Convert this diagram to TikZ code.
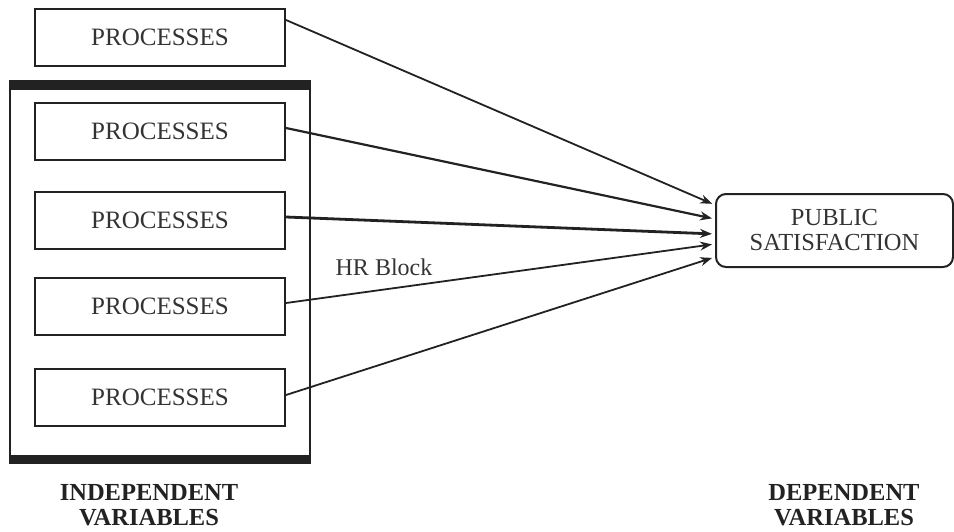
\documentclass[tikz,border=0pt]{standalone}
\usepackage{fontspec}
\setmainfont{Liberation Serif}
\usetikzlibrary{arrows.meta,calc}
\definecolor{ink}{HTML}{222222}
\definecolor{txt}{HTML}{333333}
\tikzset{
  procbox/.style={draw=ink, line width=2pt, minimum width=250pt, minimum height=57pt,
    inner sep=0pt, text=txt, font=\fontsize{25}{25}\selectfont},
  outbox/.style={draw=ink, line width=2pt, rounded corners=10pt, minimum width=237pt,
    minimum height=73pt, inner sep=0pt, align=center, text=txt,
    font=\fontsize{24.5}{25}\selectfont},
  varlabel/.style={align=center, text=ink, font=\bfseries\fontsize{24.5}{25}\selectfont},
  link/.style={draw=ink, line width=1.8pt, shorten >=3pt,
    -{Stealth[length=12pt,width=9pt]}},
}
\begin{document}
\begin{tikzpicture}[x=1pt,y=-1pt]
\useasboundingbox (0,0) rectangle (954,531);

% frame round the independent-variable group
\draw[ink, line width=2pt] (10,81) rectangle (310,463);
\fill[ink] (9,81) rectangle (311,90);
\fill[ink] (9,455) rectangle (311,464);

% boxes
\node[procbox] (p1) at (160,37) {PROCESSES};
\node[procbox] (p2) at (160,131.5) {PROCESSES};
\node[procbox] (p3) at (160,220) {PROCESSES};
\node[procbox] (p4) at (160,306) {PROCESSES};
\node[procbox] (p5) at (160,397.5) {PROCESSES};

\node[outbox] (ps) at (834.5,230.5) {PUBLIC\\SATISFACTION};

% connectors
\draw[link] ($(p1.east)+(0,-17)$) -- ($(ps.west)+(0,-25.5)$);
\draw[link, line width=2.2pt] ($(p2.east)+(0,-3.5)$) -- ($(ps.west)+(0,-11.5)$);
\draw[link, line width=2.8pt] ($(p3.east)+(0,-3)$) -- ($(ps.west)+(0,3.5)$);
\draw[link] ($(p4.east)+(0,-3)$) -- ($(ps.west)+(0,13.5)$);
\draw[link] ($(p5.east)+(0,-2.5)$) -- ($(ps.west)+(0,26.5)$);

\node[text=txt, font=\fontsize{24}{24}\selectfont] (hr) at (384,267) {HR Block};

% axis captions
\node[varlabel] (iv) at (149,505.5) {INDEPENDENT\\VARIABLES};
\node[varlabel] (dv) at (844,505.5) {DEPENDENT\\VARIABLES};
\end{tikzpicture}
\end{document}
